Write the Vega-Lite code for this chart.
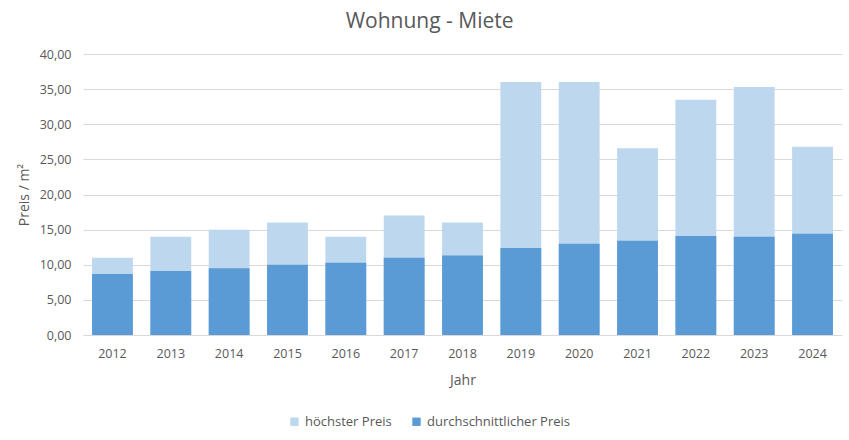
{
  "$schema": "https://vega.github.io/schema/vega-lite/v6.json",
  "width": 759,
  "height": 281,
  "padding": {"left": 17, "top": 11, "right": 6, "bottom": 5},
  "background": "#ffffff",
  "title": {"text": "Wohnung - Miete", "fontSize": 21, "font": "Open Sans", "fontWeight": "normal", "color": "#595959", "anchor": "middle", "frame": "bounds", "offset": 16},
  "data": {"values": [
    {"Jahr": "2012", "Serie": "höchster Preis", "Preis": 11.0},
    {"Jahr": "2013", "Serie": "höchster Preis", "Preis": 14.0},
    {"Jahr": "2014", "Serie": "höchster Preis", "Preis": 15.0},
    {"Jahr": "2015", "Serie": "höchster Preis", "Preis": 16.0},
    {"Jahr": "2016", "Serie": "höchster Preis", "Preis": 14.0},
    {"Jahr": "2017", "Serie": "höchster Preis", "Preis": 17.0},
    {"Jahr": "2018", "Serie": "höchster Preis", "Preis": 16.0},
    {"Jahr": "2019", "Serie": "höchster Preis", "Preis": 36.0},
    {"Jahr": "2020", "Serie": "höchster Preis", "Preis": 36.0},
    {"Jahr": "2021", "Serie": "höchster Preis", "Preis": 26.6},
    {"Jahr": "2022", "Serie": "höchster Preis", "Preis": 33.5},
    {"Jahr": "2023", "Serie": "höchster Preis", "Preis": 35.3},
    {"Jahr": "2024", "Serie": "höchster Preis", "Preis": 26.8},
    {"Jahr": "2012", "Serie": "durchschnittlicher Preis", "Preis": 8.7},
    {"Jahr": "2013", "Serie": "durchschnittlicher Preis", "Preis": 9.1},
    {"Jahr": "2014", "Serie": "durchschnittlicher Preis", "Preis": 9.5},
    {"Jahr": "2015", "Serie": "durchschnittlicher Preis", "Preis": 10.0},
    {"Jahr": "2016", "Serie": "durchschnittlicher Preis", "Preis": 10.3},
    {"Jahr": "2017", "Serie": "durchschnittlicher Preis", "Preis": 11.0},
    {"Jahr": "2018", "Serie": "durchschnittlicher Preis", "Preis": 11.3},
    {"Jahr": "2019", "Serie": "durchschnittlicher Preis", "Preis": 12.4},
    {"Jahr": "2020", "Serie": "durchschnittlicher Preis", "Preis": 13.0},
    {"Jahr": "2021", "Serie": "durchschnittlicher Preis", "Preis": 13.4},
    {"Jahr": "2022", "Serie": "durchschnittlicher Preis", "Preis": 14.1},
    {"Jahr": "2023", "Serie": "durchschnittlicher Preis", "Preis": 14.0},
    {"Jahr": "2024", "Serie": "durchschnittlicher Preis", "Preis": 14.4}
  ]},
  "mark": {"type": "bar"},
  "encoding": {
    "x": {
      "field": "Jahr", "type": "ordinal", "title": "Jahr",
      "scale": {"paddingInner": 0.3, "paddingOuter": 0.155},
      "axis": {"labelAngle": 0, "ticks": false, "domain": false, "labelPadding": 12, "titlePadding": 14}
    },
    "y": {
      "field": "Preis", "type": "quantitative", "stack": null,
      "scale": {"domain": [0, 40]},
      "axis": {
        "values": [0, 5, 10, 15, 20, 25, 30, 35, 40],
        "labelExpr": "replace(format(datum.value, '.2f'), '.', ',')",
        "title": "Preis / m²", "ticks": false, "domain": false,
        "labelPadding": 12, "titlePadding": 8
      }
    },
    "color": {
      "field": "Serie", "type": "nominal",
      "scale": {"domain": ["höchster Preis", "durchschnittlicher Preis"], "range": ["#BDD7EE", "#5B9BD5"]},
      "legend": {
        "orient": "none", "legendX": 205, "legendY": 361, "direction": "horizontal", "title": null,
        "symbolType": "square", "symbolSize": 70, "symbolStrokeWidth": 0,
        "labelFontSize": 13, "labelColor": "#595959", "labelFont": "Open Sans",
        "columnPadding": 18
      }
    }
  },
  "config": {
    "view": {"stroke": null},
    "axis": {
      "labelFont": "Open Sans", "labelFontSize": 12.5, "labelColor": "#595959",
      "titleFont": "Open Sans", "titleFontSize": 14, "titleColor": "#595959", "titleFontWeight": "normal",
      "gridColor": "#D9D9D9", "gridWidth": 1
    },
    "axisX": {"grid": false}
  }
}
